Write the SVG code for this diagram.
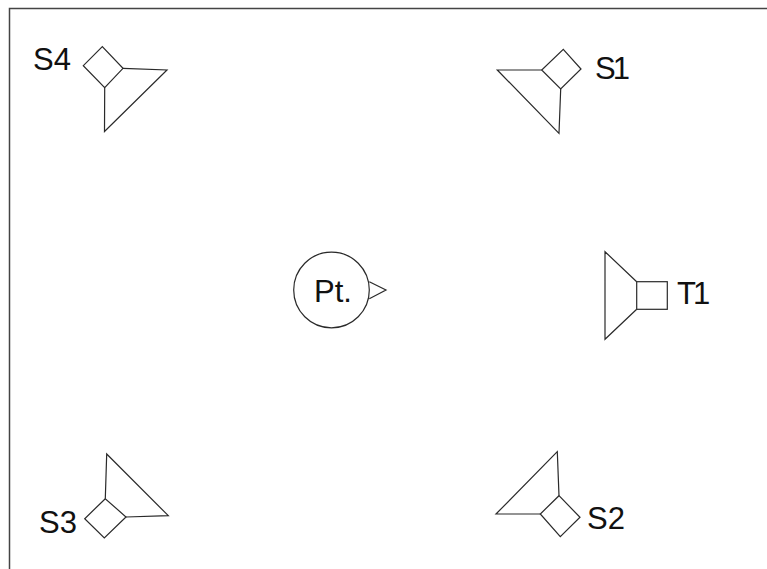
<svg xmlns="http://www.w3.org/2000/svg" width="767" height="569" viewBox="0 0 767 569">
<style>
.s{fill:none;stroke:#2a2a2a;stroke-width:1.2;stroke-linejoin:miter}
.t{font-family:"Liberation Sans",Arial,sans-serif;font-size:31px;fill:#111}
.n{letter-spacing:-3px}
.f{fill:none;stroke:#444;stroke-width:1.5}
</style>
<rect width="767" height="569" fill="#fff"/>
<path id="frame" class="f" d="M9.5 569V8.5H767"/>
<g id="connectors"/>
<g id="S4">
<path class="s" d="M102.3 46.7L83.3 65.7L104.7 87.7L123 68.3Z"/>
<path class="s" d="M123 68.3L167 70L104.5 131.5L104.7 87.7"/>
<text class="t" x="33" y="69.5">S4</text>
</g>
<g id="S1">
<path class="s" d="M563.3 49.3L581 69L560.7 89L541.7 70Z"/>
<path class="s" d="M541.7 70L497.3 70L559 133.3L560.7 89"/>
<text class="t n" x="595" y="79">S1</text>
</g>
<g id="Pt">
<circle class="s" cx="331.5" cy="290" r="37.8"/>
<path class="s" d="M369.3 281.7L386 290L369.3 298.7"/>
<text class="t" x="314" y="302.3">Pt.</text>
</g>
<g id="T1">
<rect class="s" x="636.7" y="281.7" width="30.6" height="27.6"/>
<path class="s" d="M636.7 281.7L605 251.7V339.3L636.7 309.3"/>
<text class="t n" x="677" y="304">T1</text>
</g>
<g id="S3">
<path class="s" d="M105.3 498.7L84.7 518.7L104.3 538L126 517Z"/>
<path class="s" d="M105.3 498.7L106.7 454L168.3 515.7L126 517"/>
<text class="t" x="39" y="533">S3</text>
</g>
<g id="S2">
<path class="s" d="M559 495.7L580 517.3L560.3 536.7L540.3 514Z"/>
<path class="s" d="M559 495.7L557.3 451.7L496 514H540.3"/>
<text class="t" x="587" y="529.3">S2</text>
</g>
</svg>
